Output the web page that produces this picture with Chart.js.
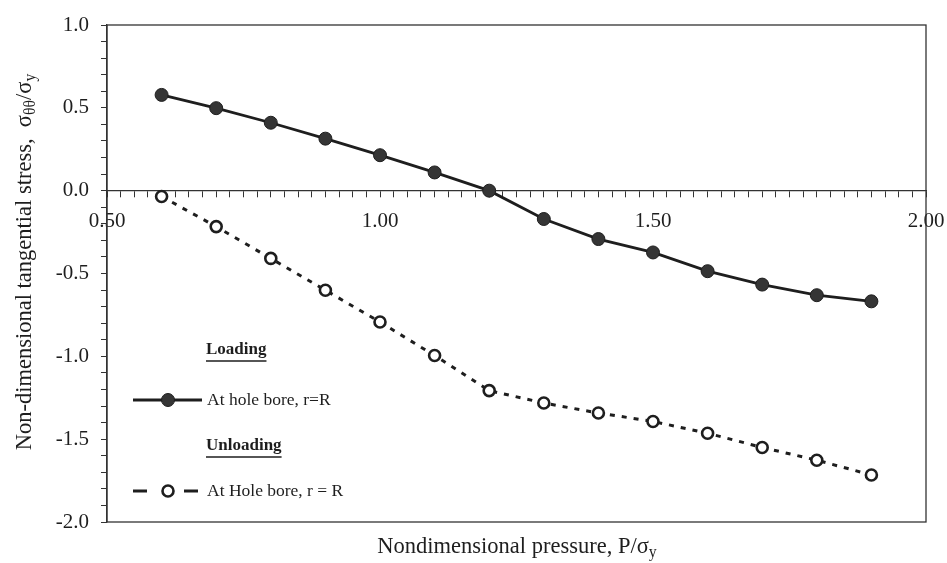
<!DOCTYPE html>
<html>
<head>
<meta charset="utf-8">
<script src="https://cdn.jsdelivr.net/npm/chart.js@4.4.1/dist/chart.umd.min.js"></script>
<style>
  body { margin: 0; background: #fff; }
  #wrap { width: 947px; height: 563px; }
</style>
</head>
<body>
<div id="wrap"><canvas id="stress" width="947" height="563"></canvas></div>
<script>
// P / sigma_y
const pressure = [0.6, 0.7, 0.8, 0.9, 1.0, 1.1, 1.2, 1.3, 1.4, 1.5, 1.6, 1.7, 1.8, 1.9];
// sigma_theta_theta / sigma_y
const loading = [0.578, 0.498, 0.41, 0.314, 0.214, 0.11, 0.0, -0.171, -0.292, -0.373, -0.486, -0.567, -0.631, -0.668];
const unloading = [-0.035, -0.217, -0.409, -0.601, -0.793, -0.995, -1.207, -1.282, -1.342, -1.393, -1.464, -1.55, -1.627, -1.716];

const seriesNames = ["At hole bore, r=R", "At Hole bore, r = R"];
const groupNames = ["Loading", "Unloading"];

const FONT = "'Liberation Serif', 'DejaVu Serif', serif";
const INK = "#1e1e1e";

function pts(ys) {
  return pressure.map((x, i) => ({ x: x, y: ys[i] }));
}

// draws text with subscript parts, centred on (x, y)
function richText(ctx, parts, x, y, size) {
  let total = 0;
  const widths = parts.map(p => {
    ctx.font = (p.sub ? size * 0.7 : size) + "px " + FONT;
    const w = ctx.measureText(p.t).width;
    total += w;
    return w;
  });
  let cx = x - total / 2;
  parts.forEach((p, i) => {
    ctx.font = (p.sub ? size * 0.7 : size) + "px " + FONT;
    ctx.fillText(p.t, cx, p.sub ? y + size * 0.28 : y);
    cx += widths[i];
  });
}

const framePlugin = {
  id: "frame",
  afterDraw(chart) {
    const ctx = chart.ctx;
    const a = chart.chartArea;
    ctx.save();
    ctx.strokeStyle = "#333";
    ctx.lineWidth = 1.3;
    ctx.strokeRect(a.left, a.top, a.right - a.left, a.bottom - a.top);

    ctx.fillStyle = INK;
    ctx.textBaseline = "middle";
    ctx.textAlign = "left";

    // x title
    richText(ctx, [{ t: "Nondimensional pressure, P/σ" }, { t: "y", sub: true }], 517, 547, 22.5);

    // y title
    ctx.save();
    ctx.translate(25, 262);
    ctx.rotate(-Math.PI / 2);
    richText(ctx, [
      { t: "Non-dimensional tangential stress,  σ" },
      { t: "θθ", sub: true },
      { t: "/σ" },
      { t: "y", sub: true }
    ], 0, 0, 22.5);
    ctx.restore();

    // legend
    const ds = chart.data.datasets;
    const rows = [
      { head: groupNames[0], hy: 350, y: 400, d: ds[0] },
      { head: groupNames[1], hy: 446, y: 491, d: ds[1] }
    ];
    rows.forEach((r, k) => {
      ctx.font = "bold 17px " + FONT;
      ctx.fillText(r.head, 206, r.hy);
      const hw = ctx.measureText(r.head).width;
      ctx.lineWidth = 1.5;
      ctx.strokeStyle = INK;
      ctx.beginPath();
      ctx.moveTo(206, r.hy + 11);
      ctx.lineTo(206 + hw, r.hy + 11);
      ctx.stroke();

      ctx.lineWidth = r.d.borderWidth;
      ctx.strokeStyle = r.d.borderColor;
      ctx.beginPath();
      if (k === 0) {
        ctx.moveTo(133, r.y);
        ctx.lineTo(202, r.y);
      } else {
        ctx.moveTo(133, r.y);
        ctx.lineTo(147, r.y);
        ctx.moveTo(184, r.y);
        ctx.lineTo(198, r.y);
      }
      ctx.stroke();
      ctx.beginPath();
      ctx.arc(168, r.y, r.d.pointRadius, 0, Math.PI * 2);
      ctx.fillStyle = r.d.pointBackgroundColor;
      ctx.fill();
      ctx.lineWidth = r.d.pointBorderWidth;
      ctx.strokeStyle = r.d.pointBorderColor;
      ctx.stroke();

      ctx.fillStyle = INK;
      ctx.font = "17.5px " + FONT;
      ctx.fillText(seriesNames[k], 207, r.y);
    });
    ctx.restore();
  }
};

function isMajor(v, step) {
  const q = v / step;
  return Math.abs(q - Math.round(q)) < 1e-6;
}

new Chart(document.getElementById("stress"), {
  type: "line",
  plugins: [framePlugin],
  data: {
    datasets: [
      {
        label: seriesNames[0],
        data: pts(loading),
        borderColor: INK,
        borderWidth: 2.8,
        pointRadius: 6.5,
        pointBackgroundColor: "#353535",
        pointBorderColor: "#1e1e1e",
        pointBorderWidth: 1,
        tension: 0
      },
      {
        label: seriesNames[1],
        data: pts(unloading),
        borderColor: INK,
        borderWidth: 3,
        borderDash: [5, 7],
        pointRadius: 5.5,
        pointBackgroundColor: "#fff",
        pointBorderColor: INK,
        pointBorderWidth: 2.6,
        tension: 0
      }
    ]
  },
  options: {
    responsive: false,
    animation: false,
    devicePixelRatio: 1,
    layout: { padding: { left: 0, right: 21, top: 25, bottom: 41 } },
    plugins: {
      legend: { display: false },
      tooltip: { enabled: false }
    },
    scales: {
      x: {
        type: "linear",
        position: { y: 0 },
        min: 0.5,
        max: 2.0,
        afterFit: (s) => { s.paddingLeft = 0; s.paddingRight = 0; },
        border: { display: true, color: "#333", width: 1.3 },
        grid: { display: true, drawOnChartArea: false, drawTicks: true, tickLength: 6, color: "#333" },
        ticks: {
          stepSize: 0.025,
          autoSkip: false,
          maxTicksLimit: 100,
          maxRotation: 0,
          padding: 12,
          color: INK,
          font: { family: FONT, size: 21 },
          callback: (v) => isMajor(v, 0.5) ? Number(v).toFixed(2) : ""
        }
      },
      y: {
        min: -2.0,
        max: 1.0,
        afterFit: (s) => { s.width = 107; },
        border: { display: true, color: "#333", width: 1.3 },
        grid: { display: true, drawOnChartArea: false, drawTicks: true, tickLength: 6, color: "#333" },
        ticks: {
          stepSize: 0.1,
          autoSkip: false,
          maxTicksLimit: 100,
          padding: 12,
          color: INK,
          font: { family: FONT, size: 21 },
          callback: (v) => isMajor(v, 0.5) ? Number(v).toFixed(1) : ""
        }
      }
    }
  }
});
</script>
</body>
</html>
